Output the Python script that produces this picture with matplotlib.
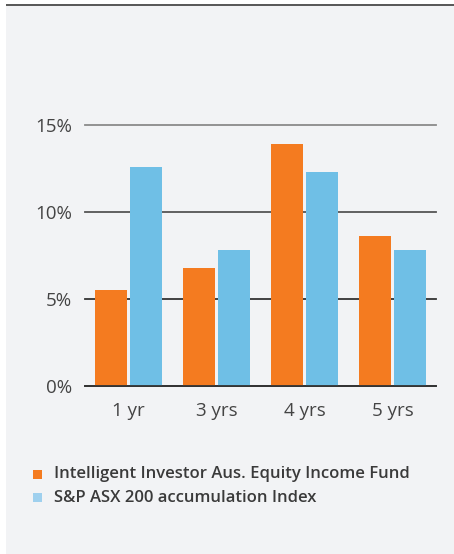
import matplotlib
matplotlib.use("Agg")
import matplotlib.pyplot as plt
from matplotlib.patches import Rectangle
import numpy as np

categories = ["1 yr", "3 yrs", "4 yrs", "5 yrs"]
fund = [5.5, 6.8, 13.9, 8.6]
index = [12.6, 7.8, 12.3, 7.8]
series_names = ["Intelligent Investor Aus. Equity Income Fund",
                "S&P ASX 200 accumulation Index"]
yticks = [0, 5, 10, 15]
ytick_labels = ["0%", "5%", "10%", "15%"]

plt.rcParams['font.family'] = ['Open Sans', 'DejaVu Sans']

W, H = 454, 554
fig = plt.figure(figsize=(W / 100, H / 100), dpi=100)
fig.patch.set_facecolor("white")

# panel background
fig.patches.append(Rectangle((6 / W, 0), 1 - 6 / W, (H - 5) / H, transform=fig.transFigure,
                             facecolor="#f2f3f5", edgecolor="none", zorder=0))
fig.patches.append(Rectangle((6 / W, (H - 5.5) / H), 1 - 6 / W, 1.6 / H, transform=fig.transFigure,
                             facecolor="#5a5a5a", edgecolor="none", zorder=1))

left, right = 85, 436
bottom, top = 386, 124.7
ax = fig.add_axes([left / W, 1 - bottom / H, (right - left) / W, (bottom - top) / H])
ax.set_facecolor("none")
ax.set_zorder(5)

x = np.arange(len(categories))
bw = 0.364
off = 0.199
orange = "#f47b20"
blue = "#6fbfe6"
line_colors = {0: "#333333", 5: "#333333", 10: "#555555", 15: "#8a8a8a"}
for t in yticks:
    ax.axhline(t, color=line_colors[t], lw=1.3, zorder=1, clip_on=False)

b1 = ax.bar(x - off, fund, width=bw, color=orange, zorder=2, label=series_names[0])
b2 = ax.bar(x + off, index, width=bw, color=blue, zorder=2, label=series_names[1])
ax.axhline(0, color="#333333", lw=1.3, zorder=3, clip_on=False)

ax.set_xlim(-0.494, 3.494)
ax.set_ylim(0, 15)
ax.set_yticks(yticks)
ax.set_yticklabels(ytick_labels)
ax.set_xticks(x)
ax.set_xticklabels(categories)
ax.tick_params(axis="y", length=0, pad=9.5, labelsize=13.5, labelcolor="#444444")
ax.tick_params(axis="x", length=0, pad=11.5, labelsize=13.5, labelcolor="#444444")
for s in ax.spines.values():
    s.set_visible(False)

# legend
leg_items = [(series_names[0], orange, 474.5), (series_names[1], "#9fd0ee", 497.5)]
for name, col, yc in leg_items:
    fig.patches.append(Rectangle((33 / W, 1 - (yc + 4.5) / H), 9 / W, 9 / H,
                                 transform=fig.transFigure, facecolor=col,
                                 edgecolor="none", zorder=3))
    fig.text(54 / W, 1 - yc / H, name, fontsize=12, fontweight="semibold",
             color="#3a3a3a", va="center", ha="left", zorder=6)

fig.savefig("out.png", dpi=100)
